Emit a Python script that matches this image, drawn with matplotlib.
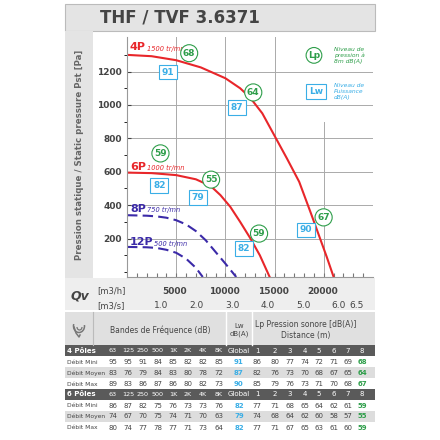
import numpy as np
import matplotlib.pyplot as plt
from matplotlib.patches import Rectangle, Arc

# ---- curve data (m3/h, Pa) ----
q_4p = [0, 2500, 5000, 7500, 10000, 11500, 12500, 13750, 15000, 16250, 17500, 18700, 19500, 20300, 21000]
p_4p = [1300, 1292, 1268, 1225, 1160, 1100, 1045, 950, 815, 680, 540, 350, 220, 90, -30]
q_6p = [0, 2500, 5000, 7000, 8500, 9500, 10500, 11500, 12500, 13500, 14500]
p_6p = [595, 592, 580, 555, 515, 460, 390, 300, 205, 100, -30]
q_8p = [0, 2000, 3000, 4000, 5000, 6000, 7000, 8000, 9000, 10000, 11100]
p_8p = [340, 337, 333, 325, 310, 285, 245, 190, 120, 50, -30]
q_12p = [0, 2000, 3000, 4000, 5000, 6000, 7000, 7700]
p_12p = [150, 148, 144, 133, 115, 80, 25, -30]

# ---- operating point labels: (q, p, value) ----
lp_pts = [(6320, 1310, 68), (12830, 1075, 64), (3400, 710, 59),
          (8550, 553, 55), (13420, 230, 59), (19980, 327, 67)]
lw_pts = [(4180, 1196, 91), (11190, 986, 87), (3290, 517, 82),
          (7240, 446, 79), (11880, 140, 82), (18200, 253, 90)]

# ---- table ----
bands = ["63", "125", "250", "500", "1K", "2K", "4K", "8K"]
dist = ["1", "2", "3", "4", "5", "6", "7", "8"]
row_names = ["Débit Mini", "Débit Moyen", "Débit Max"]
bands_4p = [[95, 95, 91, 84, 85, 82, 82, 85],
            [83, 76, 79, 84, 83, 80, 78, 72],
            [89, 83, 86, 87, 86, 80, 82, 73]]
lw_4p = [91, 87, 90]
lp_4p = [[86, 80, 77, 74, 72, 71, 69, 68],
         [82, 76, 73, 70, 68, 67, 65, 64],
         [85, 79, 76, 73, 71, 70, 68, 67]]
bands_6p = [[86, 87, 82, 75, 76, 73, 73, 76],
            [74, 67, 70, 75, 74, 71, 70, 63],
            [80, 74, 77, 78, 77, 71, 73, 64]]
lw_6p = [82, 79, 82]
lp_6p = [[77, 71, 68, 65, 64, 62, 61, 59],
         [74, 68, 64, 62, 60, 58, 57, 55],
         [77, 71, 67, 65, 63, 61, 60, 59]]

RED = "#e8262a"
PURPLE = "#3b2aa8"
GREEN = "#2e9e4a"
BLUE = "#3aaee6"
GREY_TXT = "#444444"
TFS = 5.0  # table font size

fig = plt.figure(figsize=(4.4, 4.4), dpi=100)

# background axes in pixel coordinates
bg = fig.add_axes([0, 0, 1, 1])
bg.set_xlim(0, 440)
bg.set_ylim(440, 0)
bg.axis("off")

# title band
bg.add_patch(Rectangle((65, 4), 310, 27, facecolor="#e4e4e4", edgecolor="#bbbbbb", lw=0.8))
bg.text(100, 18, "THF / TVF 3.6371", fontsize=12, fontweight="bold", color="#444444", va="center")
# left grey strip
bg.add_patch(Rectangle((65, 31), 28, 279, facecolor="#e4e4e4", edgecolor="none"))
bg.text(79, 155, "Pression statique / Static pressure Pst [Pa]", rotation=90, fontsize=6.2,
        fontweight="bold", color="#666666", ha="center", va="center")
# Qv band
bg.add_patch(Rectangle((65, 278), 310, 32, facecolor="#eeeeee", edgecolor="none"))
bg.text(80, 296, "Qv", fontsize=9, fontweight="bold", style="italic", color="#444444",
        ha="center", va="center")
bg.text(97, 291, "[m3/h]", fontsize=6, color=GREY_TXT, va="center")
bg.text(97, 306, "[m3/s]", fontsize=6, color=GREY_TXT, va="center")

def px_x(q):
    return 125.7 + q / 5000 * 49.3

for q in [5000, 10000, 15000, 20000]:
    bg.text(px_x(q), 291, f"{q}", fontsize=6.5, fontweight="bold", color=GREY_TXT,
            ha="center", va="center")
for s in [1.0, 2.0, 3.0, 4.0, 5.0, 6.0, 6.5]:
    bg.text(px_x(s * 3600), 306, f"{s:.1f}", fontsize=6.5, color=GREY_TXT,
            ha="center", va="center")

# table header
bg.add_patch(Rectangle((65, 312), 310, 33, facecolor="#e0e0e0", edgecolor="none"))
bg.plot([93, 93], [312, 345], color="#bbbbbb", lw=0.8)
bg.plot([226, 226], [312, 345], color="#ffffff", lw=1)
bg.plot([252, 252], [312, 345], color="#ffffff", lw=1)
# ear icon (drawn as shape)
bg.add_patch(Arc((79, 326), 11, 13, theta1=-10, theta2=200, color="#777777", lw=1.1))
bg.plot([74, 76, 79, 80], [327, 333, 337, 335], color="#777777", lw=1.1)
bg.add_patch(Arc((79.5, 327), 5, 6, theta1=0, theta2=180, color="#777777", lw=0.9))
bg.text(160, 330, "Bandes de Fréquence (dB)", fontsize=5.5, color=GREY_TXT, ha="center", va="center")
bg.text(239, 330, "Lw\ndB(A)", fontsize=5, color=GREY_TXT, ha="center", va="center", linespacing=1.4)
bg.text(306, 330, "Lp Pression sonore [dB(A)]\nDistance (m)", fontsize=5.5, color=GREY_TXT,
        ha="center", va="center", linespacing=1.4)

band_x = [113, 128, 143, 158, 173, 188, 203, 219]
lw_x = 239
dist_x = [257, 275, 290, 305, 319, 334, 348, 362]
name_x = 67

def block(y0, title, bvals, lwv, lpv):
    bg.add_patch(Rectangle((65, y0 - 5.5), 310, 11, facecolor="#5a5a5a", edgecolor="none"))
    bg.text(name_x, y0, title, fontsize=TFS, fontweight="bold", color="white", va="center")
    for x, b in zip(band_x, bands):
        bg.text(x, y0, b, fontsize=4.6, color="white", ha="center", va="center")
    bg.text(lw_x, y0, "Global", fontsize=TFS, color="white", ha="center", va="center")
    for x, d in zip(dist_x, dist):
        bg.text(x, y0, d, fontsize=TFS, color="white", ha="center", va="center")
    for i in range(3):
        y = y0 + 11 * (i + 1)
        if i == 1:
            bg.add_patch(Rectangle((65, y - 5.5), 310, 11, facecolor="#dddddd", edgecolor="none"))
        bg.text(name_x, y, row_names[i], fontsize=4.3, color=GREY_TXT, va="center")
        for x, v in zip(band_x, bvals[i]):
            bg.text(x, y, str(v), fontsize=TFS, color=GREY_TXT, ha="center", va="center")
        bg.text(lw_x, y, str(lwv[i]), fontsize=TFS, color=BLUE, fontweight="bold",
                ha="center", va="center")
        for j, (x, v) in enumerate(zip(dist_x, lpv[i])):
            c = GREEN if j == 7 else GREY_TXT
            bg.text(x, y, str(v), fontsize=TFS, color=c, ha="center", va="center",
                    fontweight="bold" if j == 7 else "normal")

block(351, "4 Pôles", bands_4p, lw_4p, lp_4p)
block(394.5, "6 Pôles", bands_6p, lw_6p, lp_6p)

# ---- chart axes ----
x0, x1 = 127, 373
y_top, y_bot = 37, 277
ax = fig.add_axes([x0 / 440, 1 - y_bot / 440, (x1 - x0) / 440, (y_bot - y_top) / 440])
ax.set_xlim(0, 25000)
ax.set_ylim(-30, 1407)
ax.set_facecolor("white")
for sp in ["top", "right"]:
    ax.spines[sp].set_visible(False)
ax.spines["left"].set_color("#999999")
ax.spines["bottom"].set_color("#999999")

for y in [200, 400, 600, 800, 1000, 1200]:
    ax.axhline(y, color="#aaaaaa", lw=0.7, zorder=0)
for q in [5000, 10000, 15000]:
    ax.axvline(q, color="#aaaaaa", lw=0.7, zorder=0)
ax.plot([20000, 20000], [-30, 900], color="#aaaaaa", lw=0.7, zorder=0)

ax.set_yticks([200, 400, 600, 800, 1000, 1200])
ax.set_yticks(np.arange(0, 1400, 100), minor=True)
ax.tick_params(axis="y", labelsize=6.5, colors="#444444", length=3, direction="in")
for lab in ax.get_yticklabels():
    lab.set_fontweight("bold")
ax.set_xticks(np.arange(1000, 25000, 1000))
ax.set_xticklabels([])
ax.tick_params(axis="x", length=3, direction="in", colors="#777777")

ax.plot(q_4p, p_4p, color=RED, lw=1.5)
ax.plot(q_6p, p_6p, color=RED, lw=1.5)
ax.plot(q_8p, p_8p, color=PURPLE, lw=1.5, dashes=(5, 2.5))
ax.plot(q_12p, p_12p, color=PURPLE, lw=1.5, dashes=(5, 2.5))

def curve_label(y, big, small, color):
    t = ax.text(300, y, big, fontsize=8, fontweight="bold", color=color, va="center")
    ax.annotate(small, xy=(1, 0.5), xycoords=t, xytext=(0.5, -1), textcoords="offset points",
                fontsize=4.8, style="italic", color=color, va="center")

curve_label(1345, "4P", "1500 tr/mn", RED)
curve_label(630, "6P", "1000 tr/mn", RED)
curve_label(378, "8P", "750 tr/mn", PURPLE)
curve_label(178, "12P", "500 tr/mn", PURPLE)

for q, p, v in lp_pts:
    ax.text(q, p, str(v), fontsize=6.5, fontweight="bold", color=GREEN, ha="center", va="center",
            bbox=dict(boxstyle="circle,pad=0.25", fc="white", ec=GREEN, lw=0.8))
for q, p, v in lw_pts:
    ax.text(q, p, str(v), fontsize=6.5, fontweight="bold", color=BLUE, ha="center", va="center",
            bbox=dict(boxstyle="square,pad=0.3", fc="white", ec=BLUE, lw=0.8))

ax.text(19000, 1297, "Lp", fontsize=6.5, fontweight="bold", color=GREEN, ha="center", va="center",
        bbox=dict(boxstyle="circle,pad=0.2", fc="white", ec=GREEN, lw=0.8))
ax.text(21000, 1297, "Niveau de\npression à\n8m dB(A)", fontsize=4.3, style="italic",
        color=GREEN, va="center", linespacing=1.2)
ax.text(19200, 1081, "Lw", fontsize=6.5, fontweight="bold", color=BLUE, ha="center", va="center",
        bbox=dict(boxstyle="square,pad=0.3", fc="white", ec=BLUE, lw=0.8))
ax.text(21000, 1081, "Niveau de\nPuissance\ndB(A)", fontsize=4.3, style="italic",
        color=BLUE, va="center", linespacing=1.2)

fig.savefig("out.png", dpi=100)
